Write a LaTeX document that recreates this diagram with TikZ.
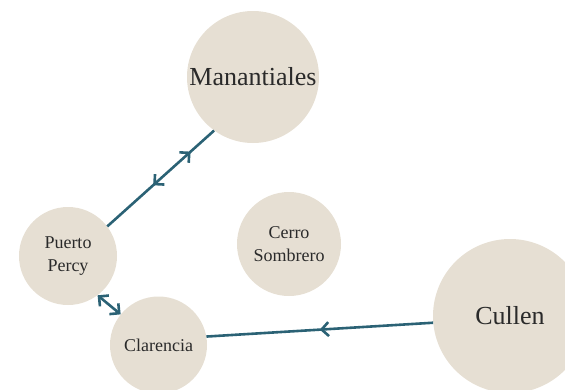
\documentclass[tikz,border=0pt]{standalone}
\usepackage{fontspec}
\setmainfont{Liberation Serif}
\usetikzlibrary{arrows.meta, decorations.markings}
\definecolor{Sand}{HTML}{E6DFD3}
\definecolor{Route}{HTML}{2B6275}
\definecolor{Ink}{HTML}{2A2A2A}
\tikzset{
    town/.style={circle, fill=Sand, text=Ink, inner sep=0pt, align=center, font=\fontsize{18}{23}\selectfont},
    bigtown/.style={town, font=\fontsize{26}{30}\selectfont},
    route/.style={line width=2.6pt, color=Route},
}

\begin{document}
\begin{tikzpicture}[x=1pt, y=-1pt, >={Straight Barb[length=7pt, width=14pt]}]
            \clip (0,0) rectangle (565,389);

            % Localita
            \node[bigtown, minimum size=132pt] (man) at (253,77) {Manantiales};
            \node[town, minimum size=98pt] (percy) at (68,256) {Puerto\\Percy};
            \node[town, minimum size=104pt] (cerro) at (289,244) {Cerro\\Sombrero};
            \node[town, minimum size=97pt] (clar) at (158.5,345) {Clarencia};
            \node[bigtown, minimum size=154pt] (cullen) at (510,316) {Cullen};

            % Collegamenti
            \draw[route, postaction={decorate}, decoration={markings,
                mark=at position 0.5 with {\arrow{<}},
                mark=at position 0.78 with {\arrow{>}}}] (percy.37) -- (man.234);
            \draw[route, <->] (percy.307) -- (clar.141);
            \draw[route, postaction={decorate}, decoration={markings,
                mark=at position 0.5 with {\arrow{>}}}] (cullen.185) -- (clar.10);
        \end{tikzpicture}
\end{document}
